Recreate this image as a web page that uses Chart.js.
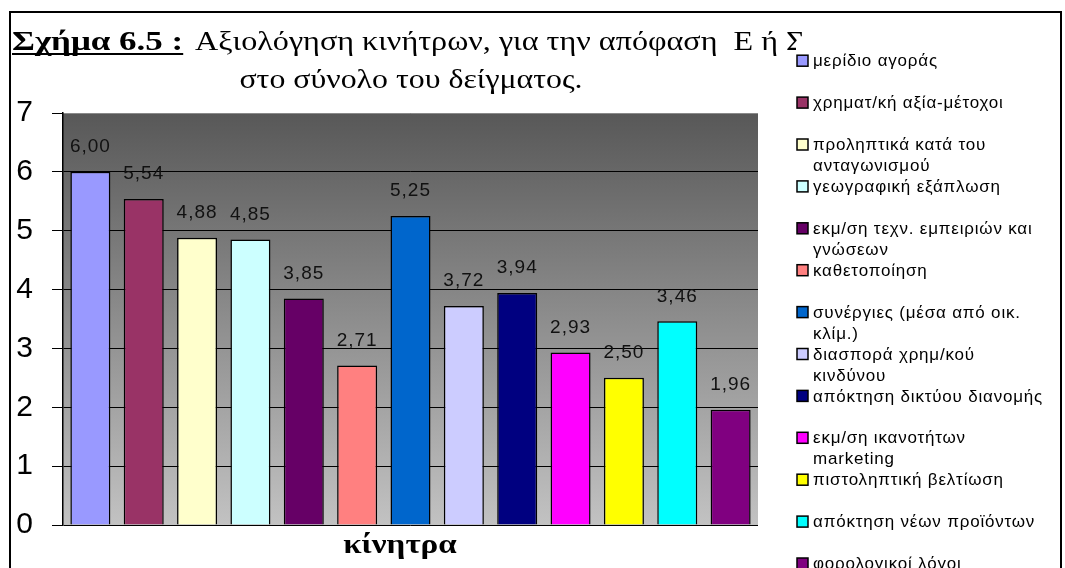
<!DOCTYPE html>
<html>
<head>
<meta charset="utf-8">
<script src="https://cdn.jsdelivr.net/npm/chart.js@4/dist/chart.umd.min.js"></script>
<style>
html, body { margin: 0; padding: 0; background: #fff; }
#wrap { width: 1065px; height: 568px; }
</style>
</head>
<body>
<div id="wrap"><canvas id="c" width="1065" height="568"></canvas></div>
<script>
// κίνητρα (γραμμές όπως σπάνε στο υπόμνημα)
var motives = [
  ['μερίδιο αγοράς'],
  ['χρηματ/κή αξία-μέτοχοι'],
  ['προληπτικά κατά του', 'ανταγωνισμού'],
  ['γεωγραφική εξάπλωση'],
  ['εκμ/ση τεχν. εμπειριών και', 'γνώσεων'],
  ['καθετοποίηση'],
  ['συνέργιες (μέσα από οικ.', 'κλίμ.)'],
  ['διασπορά χρημ/κού', 'κινδύνου'],
  ['απόκτηση δικτύου διανομής'],
  ['εκμ/ση ικανοτήτων', 'marketing'],
  ['πιστοληπτική βελτίωση'],
  ['απόκτηση νέων προϊόντων'],
  ['φορολογικοί λόγοι']
];
var scores = [6.00, 5.54, 4.88, 4.85, 3.85, 2.71, 5.25, 3.72, 3.94, 2.93, 2.50, 3.46, 1.96];
var barColors = ['#9999FF', '#993366', '#FFFFCC', '#CCFFFF', '#660066', '#FF8080', '#0066CC',
                 '#CCCCFF', '#000080', '#FF00FF', '#FFFF00', '#00FFFF', '#800080'];
var yMin = 0, yMax = 7, yStep = 1;

var titleBold = 'Σχήμα 6.5 :';
var titleRest = 'Αξιολόγηση κινήτρων, για την απόφαση  Ε ή Σ';
var titleLine2 = 'στο σύνολο του δείγματος.';
var axisTitle = 'κίνητρα';

var SANS = '"Liberation Sans", Arial, sans-serif';
var SERIF = '"Liberation Serif", "Times New Roman", serif';

// κείμενο πλατύτερο οριζόντια (η γραμματοσειρά του πρωτοτύπου είναι πιο φαρδιά)
function wideText(ctx, text, x, y, sx) {
  ctx.save();
  ctx.translate(x, y);
  ctx.scale(sx, 1);
  ctx.fillText(text, 0, 0);
  ctx.restore();
}

// φόντο, τίτλοι, ετικέτες, υπόμνημα
var decor = {
  id: 'decor',
  beforeDraw: function (chart) {
    var ctx = chart.ctx, a = chart.chartArea;
    ctx.save();
    ctx.fillStyle = '#fff';
    ctx.fillRect(0, 0, chart.width, chart.height);
    var g = ctx.createLinearGradient(0, a.top, 0, a.bottom);
    g.addColorStop(0, '#585858');
    g.addColorStop(1, '#c2c2c2');
    ctx.fillStyle = g;
    ctx.fillRect(a.left, a.top, a.right - a.left, a.bottom - a.top);
    ctx.restore();
  },
  afterDatasetsDraw: function (chart) {
    var ctx = chart.ctx;
    ctx.save();
    ctx.font = '19px ' + SANS;
    ctx.letterSpacing = '1px';
    ctx.fillStyle = '#111';
    ctx.textAlign = 'center';
    ctx.textBaseline = 'middle';
    chart.data.datasets.forEach(function (ds, i) {
      var bar = chart.getDatasetMeta(i).data[0];
      ctx.fillText(ds.data[0].toFixed(2).replace('.', ','), bar.x, bar.y - 25);
    });
    ctx.restore();
  },
  afterDraw: function (chart) {
    var ctx = chart.ctx, a = chart.chartArea;
    ctx.save();
    ctx.fillStyle = '#000';
    ctx.textBaseline = 'alphabetic';
    // τίτλος
    ctx.textAlign = 'left';
    ctx.font = 'bold 28px ' + SERIF;
    var sxB = 1.25;
    wideText(ctx, titleBold, 12, 50, sxB);
    var w = ctx.measureText(titleBold).width * sxB;
    ctx.fillRect(12, 53, w, 2);
    ctx.font = '27px ' + SERIF;
    wideText(ctx, titleRest, 195, 50, 1.19);
    ctx.textAlign = 'center';
    wideText(ctx, titleLine2, 411, 88, 1.18);
    // τίτλος άξονα
    ctx.font = 'bold 28px ' + SERIF;
    wideText(ctx, axisTitle, 400, 553, 1.18);

    // υπόμνημα
    ctx.fillStyle = '#fff';
    ctx.fillRect(796, 42, 264, 526);
    ctx.beginPath();
    ctx.rect(790, 0, 271, chart.height);
    ctx.clip();
    ctx.textAlign = 'left';
    ctx.textBaseline = 'middle';
    ctx.font = '17px ' + SANS;
    ctx.letterSpacing = '0.8px';
    chart.data.datasets.forEach(function (ds, i) {
      var y = 60.7 + i * 41.9;
      ctx.fillStyle = ds.backgroundColor;
      ctx.fillRect(797, y - 5.5, 11, 11);
      ctx.lineWidth = 1.5;
      ctx.strokeStyle = '#000';
      ctx.strokeRect(797, y - 5.5, 11, 11);
      ctx.fillStyle = '#000';
      ds.lines.forEach(function (t, k) {
        ctx.fillText(t, 813, y + 1 + k * 21);
      });
    });
    ctx.restore();

    // πλαίσιο
    ctx.save();
    ctx.strokeStyle = '#000';
    ctx.lineWidth = 2;
    ctx.beginPath();
    ctx.moveTo(10, chart.height + 5);
    ctx.lineTo(10, 12);
    ctx.lineTo(1061, 12);
    ctx.lineTo(1061, chart.height + 5);
    ctx.stroke();
    ctx.restore();
  }
};

var datasets = motives.map(function (m, i) {
  return {
    label: m.join(' '),
    lines: m,
    data: [scores[i]],
    backgroundColor: barColors[i],
    borderColor: '#000',
    borderWidth: 1.5,
    categoryPercentage: 0.998,
    barPercentage: 0.75
  };
});

new Chart(document.getElementById('c'), {
  type: 'bar',
  data: { labels: [''], datasets: datasets },
  options: {
    responsive: false,
    devicePixelRatio: 1,
    animation: false,
    layout: { padding: { top: 113, right: 307, bottom: 43, left: 0 } },
    plugins: {
      legend: { display: false },
      title: { display: false },
      tooltip: { enabled: false }
    },
    scales: {
      x: { display: false },
      y: {
        min: yMin,
        max: yMax,
        afterFit: function (s) { s.width = 63; },
        ticks: {
          stepSize: yStep,
          color: '#000',
          padding: 19,
          font: { family: SANS, size: 30 }
        },
        grid: {
          color: function (c) { return c.tick && c.tick.value === yMax ? '#8a8a8a' : '#000'; },
          tickColor: '#000',
          tickLength: 11,
          lineWidth: 1
        },
        border: { color: '#000', width: 1.5 }
      }
    }
  },
  plugins: [decor]
});
</script>
</body>
</html>
